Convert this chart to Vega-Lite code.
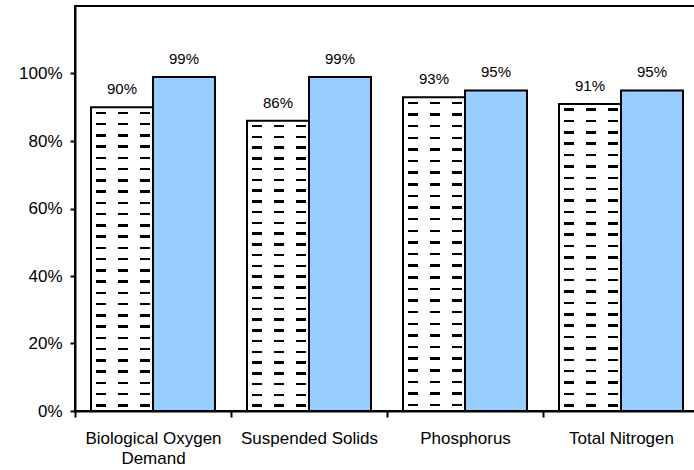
{
  "$schema": "https://vega.github.io/schema/vega-lite/v6.json",
  "autosize": "none",
  "width": 624,
  "height": 405,
  "padding": {"left": 75, "top": 6, "right": 0, "bottom": 59},
  "background": "white",
  "config": {
    "view": {"stroke": "black", "strokeWidth": 2},
    "axis": {"domainColor": "black", "domainWidth": 2, "tickColor": "black", "tickWidth": 2, "labelColor": "black", "labelFont": "Liberation Sans", "grid": false}
  },
  "data": {
    "values": [
      {"cat": "Biological Oxygen Demand", "series": "s1", "value": 0.90},
      {"cat": "Biological Oxygen Demand", "series": "s2", "value": 0.99},
      {"cat": "Suspended Solids", "series": "s1", "value": 0.86},
      {"cat": "Suspended Solids", "series": "s2", "value": 0.99},
      {"cat": "Phosphorus", "series": "s1", "value": 0.93},
      {"cat": "Phosphorus", "series": "s2", "value": 0.95},
      {"cat": "Total Nitrogen", "series": "s1", "value": 0.91},
      {"cat": "Total Nitrogen", "series": "s2", "value": 0.95}
    ]
  },
  "encoding": {
    "x": {
      "field": "cat", "type": "nominal",
      "sort": ["Biological Oxygen Demand", "Suspended Solids", "Phosphorus", "Total Nitrogen"],
      "scale": {"paddingInner": 0, "paddingOuter": 0},
      "axis": {"title": null, "labelAngle": 0, "tickBand": "extent", "tickSize": 6, "labelFontSize": 17, "labelPadding": 13, "labelLimit": 300, "labelLineHeight": 20, "labelBaseline": "top",
        "labelExpr": "datum.label == 'Biological Oxygen Demand' ? ['Biological Oxygen', 'Demand'] : datum.label"}
    },
    "xOffset": {"field": "series", "type": "nominal", "scale": {"domain": ["s1", "s2"], "paddingInner": 0, "paddingOuter": 0.258}},
    "y": {
      "field": "value", "type": "quantitative",
      "scale": {"domain": [0, 1.2]},
      "axis": {"title": null, "values": [0, 0.2, 0.4, 0.6, 0.8, 1.0], "format": ".0%", "tickSize": 5, "labelFontSize": 17, "labelPadding": 8}
    }
  },
  "layer": [
    {
      "transform": [{"filter": "datum.series === 's2'"}],
      "mark": {"type": "bar", "fill": "#99CCFF", "stroke": "black", "strokeWidth": 2}
    },
    {
      "transform": [{"filter": "datum.series === 's1'"}],
      "mark": {"type": "bar", "fill": {"gradient": "linear", "x1": 0, "y1": 0, "x2": 0, "y2": 1, "stops": [
        {"offset": 0, "color": "white"},
        {"offset": 0.0145, "color": "white"}, {"offset": 0.0145, "color": "black"}, {"offset": 0.0225, "color": "black"}, {"offset": 0.0225, "color": "white"},
        {"offset": 0.0516, "color": "white"}, {"offset": 0.0516, "color": "black"}, {"offset": 0.0596, "color": "black"}, {"offset": 0.0596, "color": "white"},
        {"offset": 0.0886, "color": "white"}, {"offset": 0.0886, "color": "black"}, {"offset": 0.0966, "color": "black"}, {"offset": 0.0966, "color": "white"},
        {"offset": 0.1256, "color": "white"}, {"offset": 0.1256, "color": "black"}, {"offset": 0.1336, "color": "black"}, {"offset": 0.1336, "color": "white"},
        {"offset": 0.1627, "color": "white"}, {"offset": 0.1627, "color": "black"}, {"offset": 0.1707, "color": "black"}, {"offset": 0.1707, "color": "white"},
        {"offset": 0.1997, "color": "white"}, {"offset": 0.1997, "color": "black"}, {"offset": 0.2077, "color": "black"}, {"offset": 0.2077, "color": "white"},
        {"offset": 0.2367, "color": "white"}, {"offset": 0.2367, "color": "black"}, {"offset": 0.2447, "color": "black"}, {"offset": 0.2447, "color": "white"},
        {"offset": 0.2738, "color": "white"}, {"offset": 0.2738, "color": "black"}, {"offset": 0.2818, "color": "black"}, {"offset": 0.2818, "color": "white"},
        {"offset": 0.3108, "color": "white"}, {"offset": 0.3108, "color": "black"}, {"offset": 0.3188, "color": "black"}, {"offset": 0.3188, "color": "white"},
        {"offset": 0.3479, "color": "white"}, {"offset": 0.3479, "color": "black"}, {"offset": 0.3559, "color": "black"}, {"offset": 0.3559, "color": "white"},
        {"offset": 0.3849, "color": "white"}, {"offset": 0.3849, "color": "black"}, {"offset": 0.3929, "color": "black"}, {"offset": 0.3929, "color": "white"},
        {"offset": 0.4219, "color": "white"}, {"offset": 0.4219, "color": "black"}, {"offset": 0.4299, "color": "black"}, {"offset": 0.4299, "color": "white"},
        {"offset": 0.4590, "color": "white"}, {"offset": 0.4590, "color": "black"}, {"offset": 0.4670, "color": "black"}, {"offset": 0.4670, "color": "white"},
        {"offset": 0.4960, "color": "white"}, {"offset": 0.4960, "color": "black"}, {"offset": 0.5040, "color": "black"}, {"offset": 0.5040, "color": "white"},
        {"offset": 0.5330, "color": "white"}, {"offset": 0.5330, "color": "black"}, {"offset": 0.5410, "color": "black"}, {"offset": 0.5410, "color": "white"},
        {"offset": 0.5701, "color": "white"}, {"offset": 0.5701, "color": "black"}, {"offset": 0.5781, "color": "black"}, {"offset": 0.5781, "color": "white"},
        {"offset": 0.6071, "color": "white"}, {"offset": 0.6071, "color": "black"}, {"offset": 0.6151, "color": "black"}, {"offset": 0.6151, "color": "white"},
        {"offset": 0.6442, "color": "white"}, {"offset": 0.6442, "color": "black"}, {"offset": 0.6522, "color": "black"}, {"offset": 0.6522, "color": "white"},
        {"offset": 0.6812, "color": "white"}, {"offset": 0.6812, "color": "black"}, {"offset": 0.6892, "color": "black"}, {"offset": 0.6892, "color": "white"},
        {"offset": 0.7182, "color": "white"}, {"offset": 0.7182, "color": "black"}, {"offset": 0.7262, "color": "black"}, {"offset": 0.7262, "color": "white"},
        {"offset": 0.7553, "color": "white"}, {"offset": 0.7553, "color": "black"}, {"offset": 0.7633, "color": "black"}, {"offset": 0.7633, "color": "white"},
        {"offset": 0.7923, "color": "white"}, {"offset": 0.7923, "color": "black"}, {"offset": 0.8003, "color": "black"}, {"offset": 0.8003, "color": "white"},
        {"offset": 0.8293, "color": "white"}, {"offset": 0.8293, "color": "black"}, {"offset": 0.8373, "color": "black"}, {"offset": 0.8373, "color": "white"},
        {"offset": 0.8664, "color": "white"}, {"offset": 0.8664, "color": "black"}, {"offset": 0.8744, "color": "black"}, {"offset": 0.8744, "color": "white"},
        {"offset": 0.9034, "color": "white"}, {"offset": 0.9034, "color": "black"}, {"offset": 0.9114, "color": "black"}, {"offset": 0.9114, "color": "white"},
        {"offset": 0.9404, "color": "white"}, {"offset": 0.9404, "color": "black"}, {"offset": 0.9484, "color": "black"}, {"offset": 0.9484, "color": "white"},
        {"offset": 0.9775, "color": "white"}, {"offset": 0.9775, "color": "black"}, {"offset": 0.9855, "color": "black"}, {"offset": 0.9855, "color": "white"},
        {"offset": 1, "color": "white"}
      ]}}
    },
    {
      "transform": [{"filter": "datum.series === 's1'"}],
      "mark": {"type": "bar", "stroke": "black", "strokeWidth": 2, "fill": {"gradient": "linear", "x1": 0, "y1": 0, "x2": 1, "y2": 0, "stops": [
        {"offset": 0, "color": "white"},
        {"offset": 0.0806, "color": "white"}, {"offset": 0.0806, "color": "rgba(255,255,255,0)"}, {"offset": 0.2419, "color": "rgba(255,255,255,0)"}, {"offset": 0.2419, "color": "white"},
        {"offset": 0.4355, "color": "white"}, {"offset": 0.4355, "color": "rgba(255,255,255,0)"}, {"offset": 0.5968, "color": "rgba(255,255,255,0)"}, {"offset": 0.5968, "color": "white"},
        {"offset": 0.7903, "color": "white"}, {"offset": 0.7903, "color": "rgba(255,255,255,0)"}, {"offset": 0.9516, "color": "rgba(255,255,255,0)"}, {"offset": 0.9516, "color": "white"},
        {"offset": 1, "color": "white"}
      ]}}
    },
    {
      "mark": {"type": "text", "baseline": "alphabetic", "dy": -13, "fontSize": 15, "font": "Liberation Sans", "color": "black"},
      "encoding": {"text": {"field": "value", "type": "quantitative", "format": ".0%"}}
    }
  ]
}
